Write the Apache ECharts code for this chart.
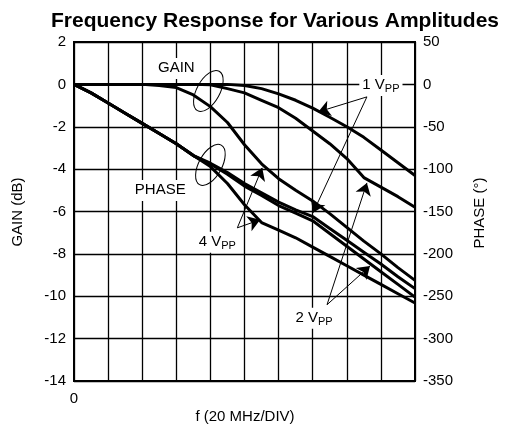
<!DOCTYPE html>
<html><head><meta charset="utf-8">
<script src="https://cdn.jsdelivr.net/npm/echarts@6/dist/echarts.min.js"></script>
<style>html,body{margin:0;padding:0;background:#fff}#c{width:513px;height:429px}</style>
</head><body><div id="c"></div>
<script>
// x in divisions (20 MHz / DIV)
const freqDiv   = [0,0.5,1,1.5,2,2.5,3,3.5,4,4.5,5,5.5,6,6.5,7,7.5,8,8.5,9,9.5,10];
// GAIN (dB)
const gain1Vpp  = [0,0,0,0,0,0,0,0,0,0,-0.05,-0.2,-0.45,-0.75,-1.12,-1.55,-2.0,-2.5,-3.1,-3.7,-4.3];
const gain2Vpp  = [0,0,0,0,0,0,0,0,-0.02,-0.2,-0.4,-0.75,-1.1,-1.6,-2.2,-2.8,-3.5,-4.4,-4.85,-5.3,-5.8];
const gain4Vpp  = [0,0,0,0,0,-0.05,-0.15,-0.5,-1.05,-1.8,-2.85,-3.75,-4.45,-5.0,-5.5,-6.1,-6.75,-7.4,-8.0,-8.65,-9.25];
// PHASE (deg)
const phase1Vpp = [0,-10,-22,-34,-46,-58,-70,-84,-93,-104,-117,-128,-139,-148,-156,-170,-184,-198,-212,-227,-241];
const phase2Vpp = [0,-10,-22,-34,-46,-58,-70,-84,-94,-106,-120,-131,-143,-152,-161,-176,-191,-206,-221,-236,-251];
const phase4Vpp = [0,-10,-22,-34,-46,-58,-70,-84,-97,-117,-142,-163,-172,-181,-192,-203,-214,-225,-236,-247,-258];
// axes
const xTickLabels = ['0'];
const gainMin = -14, gainMax = 2, gainStep = 2;
const phaseMin = -350, phaseMax = 50, phaseStep = 50;

const FONT = '"Liberation Sans", Arial, Helvetica, sans-serif';
const chart = echarts.init(document.getElementById('c'), null, {renderer:'canvas'});
const pair = arr => freqDiv.map((x,i)=>[x,arr[i]]);
const lineS = (name, arr, yi) => ({
  name, type:'line', yAxisIndex: yi, data: pair(arr), showSymbol:false, symbol:'none',
  smooth:false, lineStyle:{color:'#000', width:3}, z:5, silent:true, animation:false
});

// annotation arrows (gain-axis coordinates)
const arrows = [
  [[8.59,-0.59],[7.16,-1.30]], [[8.59,-0.59],[7.01,-6.06]],
  [[7.42,-10.40],[8.59,-4.65]], [[7.42,-10.40],[8.68,-8.57]],
  [[4.79,-6.77],[5.52,-3.94]], [[4.79,-6.77],[5.46,-6.39]]
];

chart.setOption({
  animation:false,
  backgroundColor:'#fff',
  grid:{left:74, right:98, top:42, bottom:48, show:true, borderColor:'#000', borderWidth:2, backgroundColor:'transparent', z:3},
  xAxis:{type:'value', min:0, max:10, interval:1,
    axisLine:{show:false}, axisTick:{show:false},
    axisLabel:{color:'#000', fontFamily:FONT, fontSize:15, margin:10,
      formatter:(v)=> (v===0 ? xTickLabels[0] : '')},
    splitLine:{show:true, lineStyle:{color:'#000', width:1.3}}},
  yAxis:[
    {type:'value', min:gainMin, max:gainMax, interval:gainStep, position:'left',
     axisLine:{show:false}, axisTick:{show:false},
     axisLabel:{color:'#000', fontFamily:FONT, fontSize:15, margin:8},
     splitLine:{show:true, lineStyle:{color:'#000', width:1.3}}},
    {type:'value', min:phaseMin, max:phaseMax, interval:phaseStep, position:'right',
     axisLine:{show:false}, axisTick:{show:false},
     axisLabel:{color:'#000', fontFamily:FONT, fontSize:15, margin:8},
     splitLine:{show:false}}
  ],
  series:[
    lineS('1 VPP gain', gain1Vpp, 0),
    lineS('2 VPP gain', gain2Vpp, 0),
    lineS('4 VPP gain', gain4Vpp, 0),
    lineS('1 VPP phase', phase1Vpp, 1),
    lineS('2 VPP phase', phase2Vpp, 1),
    lineS('4 VPP phase', phase4Vpp, 1),
    {type:'line', yAxisIndex:0, data:[], silent:true, z:6,
     markLine:{silent:true, animation:false, symbol:['none','arrow'], symbolSize:12,
       label:{show:false}, lineStyle:{color:'#000', width:1, type:'solid'},
       emphasis:{disabled:true},
       data: arrows.map(a=>[{coord:a[0]},{coord:a[1]}])}}
  ]
});

const P = (x,g)=>chart.convertToPixel({xAxisIndex:0, yAxisIndex:0},[x,g]);
const cv = document.createElement('canvas').getContext('2d');
function tw(t, size, bold){ cv.font=(bold?'bold ':'')+size+'px '+FONT; return cv.measureText(t).width; }

const g = [];
// title
g.push({type:'text', x:275, y:21, z:10, style:{text:'Frequency Response for Various Amplitudes', font:'bold 21px '+FONT, fill:'#000', textAlign:'center', textVerticalAlign:'middle'}});
// axis names
g.push({type:'text', x:18, y:212, rotation:Math.PI/2, z:10, style:{text:'GAIN (dB)', font:'15px '+FONT, fill:'#000', textAlign:'center', textVerticalAlign:'middle'}});
g.push({type:'text', x:480, y:213, rotation:Math.PI/2, z:10, style:{text:'PHASE (°)', font:'15px '+FONT, fill:'#000', textAlign:'center', textVerticalAlign:'middle'}});
g.push({type:'text', x:245, y:417, z:10, style:{text:'f (20 MHz/DIV)', font:'15px '+FONT, fill:'#000', textAlign:'center', textVerticalAlign:'middle'}});

function boxText(cx, cy, main, sub){
  const w1 = tw(main,15), w2 = sub? tw(sub,11):0, w = w1+w2;
  const left = cx - w/2;
  g.push({type:'rect', z:8, shape:{x:left-3, y:cy-10, width:w+6, height:21}, style:{fill:'#fff'}});
  g.push({type:'text', z:9, x:left, y:cy, style:{text:main, font:'15px '+FONT, fill:'#000', textAlign:'left', textVerticalAlign:'middle'}});
  if(sub) g.push({type:'text', z:9, x:left+w1, y:cy+4, style:{text:sub, font:'11px '+FONT, fill:'#000', textAlign:'left', textVerticalAlign:'middle'}});
}
let p;
p = P(3.0, 0.77);   boxText(p[0], p[1], 'GAIN');
p = P(2.53, -4.98); boxText(p[0], p[1], 'PHASE');
p = P(9.0, -0.03);  boxText(p[0], p[1], '1 V', 'PP');
p = P(4.2, -7.43);  boxText(p[0], p[1], '4 V', 'PP');
p = P(7.04, -11.02);boxText(p[0], p[1], '2 V', 'PP');

function ell(x, gv){
  const q = P(x, gv);
  g.push({type:'ellipse', z:9, x:q[0], y:q[1], rotation:Math.PI*0.34, shape:{cx:0, cy:0, rx:22.5, ry:11.5}, style:{fill:'none', stroke:'#000', lineWidth:1}});
}
ell(3.94, -0.31);
ell(4.0, -3.8);

chart.setOption({graphic:{elements:g}});
</script></body></html>
